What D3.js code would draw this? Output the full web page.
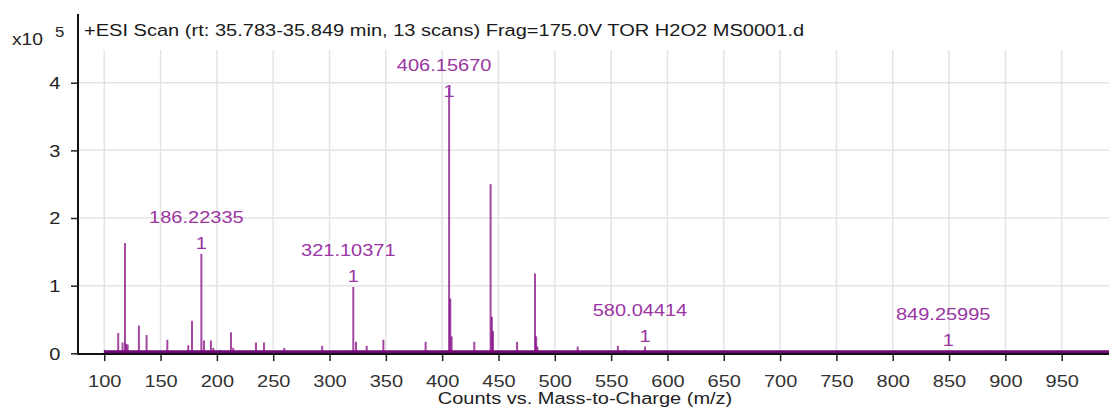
<!DOCTYPE html>
<html>
<head>
<meta charset="utf-8">
<script src="https://cdn.jsdelivr.net/npm/d3@7/dist/d3.min.js"></script>
<style>
  html, body { margin: 0; padding: 0; background: #fff; }
  svg { display: block; font-family: "Liberation Sans", Arial, Helvetica, sans-serif; }
</style>
</head>
<body>
<svg id="chart" width="1109" height="411"></svg>
<script>
// ---- Data (counts in units of x10^5) ----
const titleText = "+ESI Scan (rt: 35.783-35.849 min, 13 scans) Frag=175.0V TOR H2O2 MS0001.d";
const xAxisTitle = "Counts vs. Mass-to-Charge (m/z)";
const xTickValues = [100,150,200,250,300,350,400,450,500,550,600,650,700,750,800,850,900,950];
const yTickValues = [0,1,2,3,4];
const yExponent = "5";

// spectrum sticks: m/z and abundance
const peakMz = [100.5,112.4,116.3,118.4,119.5,120.8,130.8,137.6,156.0,174.6,177.9,186.22335,188.5,194.7,196.8,202.7,
  212.5,214.5,220.5,234.7,241.8,259.8,293.5,308.6,317.0,321.10371,323.5,333.0,342.0,347.8,359.0,385.3,
  406.15670,407.2,408.4,428.5,443.0,444.1,445.1,466.5,482.4,483.5,484.5,520.3,556.0,562.0,580.04414,617.0,
  707.0,849.25995,887.0];
const peakCounts = [0.05,0.30,0.16,1.63,0.14,0.13,0.41,0.27,0.20,0.12,0.48,1.47,0.19,0.19,0.08,0.05,
  0.31,0.08,0.04,0.16,0.16,0.08,0.11,0.03,0.04,0.98,0.17,0.11,0.03,0.20,0.03,0.17,
  3.92,0.81,0.25,0.17,2.50,0.54,0.33,0.17,1.18,0.25,0.10,0.10,0.11,0.05,0.10,0.04,
  0.03,0.03,0.04];

// labelled peaks
const labelMz = [186.22335, 321.10371, 406.15670, 580.04414, 849.25995];
const labelCounts = [1.47, 0.98, 3.92, 0.10, 0.03];
const labelText = ["186.22335", "321.10371", "406.15670", "580.04414", "849.25995"];
const labelCharge = ["1", "1", "1", "1", "1"];

// baseline noise floor
const noiseStart = 100;
const noiseLevel = 0.045;

// ---- Drawing ----
const svg = d3.select("#chart");
const W = 1109, H = 411;
const SX = 1.25; // horizontal text stretch

const x = d3.scaleLinear().domain([76.7, 992]).range([78, 1109]);
const y = d3.scaleLinear().domain([0, 5]).range([353.3, 15.05]);
const gridTop = 50;

// grid
const grid = svg.append("g");
grid.selectAll("line.v").data(xTickValues).join("line")
  .attr("x1", d => x(d)).attr("x2", d => x(d))
  .attr("y1", gridTop).attr("y2", y(0))
  .attr("stroke", "#e4e4e4").attr("stroke-width", 1.5);
grid.selectAll("line.h").data(yTickValues.filter(d => d > 0)).join("line")
  .attr("x1", x.range()[0]).attr("x2", W)
  .attr("y1", d => y(d)).attr("y2", d => y(d))
  .attr("stroke", "#e4e4e4").attr("stroke-width", 1.5);

// noise floor band
svg.append("rect")
  .attr("x", x(noiseStart)).attr("width", W - x(noiseStart))
  .attr("y", y(noiseLevel)).attr("height", y(0) - y(noiseLevel))
  .attr("fill", "#6e0a74");

// sticks
svg.append("g").selectAll("line").data(peakMz).join("line")
  .attr("x1", d => x(d)).attr("x2", d => x(d))
  .attr("y1", y(0)).attr("y2", (d, i) => y(peakCounts[i]))
  .attr("stroke", "#800080").attr("stroke-opacity", 0.72).attr("stroke-width", 2);

// axes
function stretch(sel) {
  sel.attr("transform", function() {
    return "scale(" + SX + ",1)";
  });
}
const xAxis = svg.append("g").attr("transform", "translate(0," + (y(0) + 0.8) + ")")
  .call(d3.axisBottom(x).tickValues(xTickValues).tickSize(7).tickSizeOuter(0).tickFormat(d3.format("d")));
xAxis.select(".domain").attr("stroke", "#111").attr("stroke-width", 2)
  .attr("d", "M" + x.range()[0] + ",0H" + W);
xAxis.selectAll(".tick line").attr("stroke", "#222").attr("stroke-width", 1.5);
xAxis.selectAll(".tick text")
  .attr("y", 33).attr("dy", 0)
  .attr("font-size", 16).attr("fill", "#333")
  .attr("font-family", "Liberation Sans, Arial, sans-serif")
  .call(stretch);

const yAxis = svg.append("g").attr("transform", "translate(" + x.range()[0] + ",0)")
  .call(d3.axisLeft(y).tickValues(yTickValues).tickSize(7).tickSizeOuter(0).tickFormat(d3.format("d")));
yAxis.select(".domain").attr("stroke", "#111").attr("stroke-width", 2)
  .attr("d", "M0," + 14 + "V" + (y(0) + 1.8));
yAxis.selectAll(".tick line").attr("stroke", "#222").attr("stroke-width", 1.5);
yAxis.selectAll(".tick text")
  .attr("x", -14).attr("dy", "0.36em")
  .attr("font-size", 16).attr("fill", "#222")
  .attr("font-family", "Liberation Sans, Arial, sans-serif")
  .call(stretch);

// helper for stretched text
function stext(tx, ty, str, opts) {
  const t = svg.append("text")
    .attr("transform", "translate(" + tx + "," + ty + ") scale(" + (opts.sx || SX) + ",1)")
    .attr("font-size", opts.size || 16)
    .attr("fill", opts.fill || "#222")
    .attr("text-anchor", opts.anchor || "start")
    .text(str);
  return t;
}

// exponent
stext(12, 45, "x10", { size: 16, fill: "#222", sx: 1.2 });
stext(55, 37, yExponent, { size: 14, fill: "#222", sx: 1.2 });

// title
svg.append("rect").attr("x", 80).attr("y", 15).attr("width", 740).attr("height", 28).attr("fill", "#fff");
stext(84, 36, titleText, { size: 17, fill: "#1a1a1a", sx: 1.18 });

// x axis title
stext(585, 404, xAxisTitle, { size: 16, fill: "#222", anchor: "middle" });

// peak labels
const labelTopBaseline = 71;
labelMz.forEach((m, i) => {
  const px = x(m);
  const top = y(labelCounts[i]);
  let numBase = top - 31;
  if (numBase < labelTopBaseline) numBase = labelTopBaseline;
  const chargeBase = numBase + 26;
  stext(px - 5, numBase, labelText[i], { size: 16, fill: "#9b35a3", anchor: "middle" });
  stext(px, chargeBase, labelCharge[i], { size: 16, fill: "#9b35a3", anchor: "middle" });
});
</script>
</body>
</html>
